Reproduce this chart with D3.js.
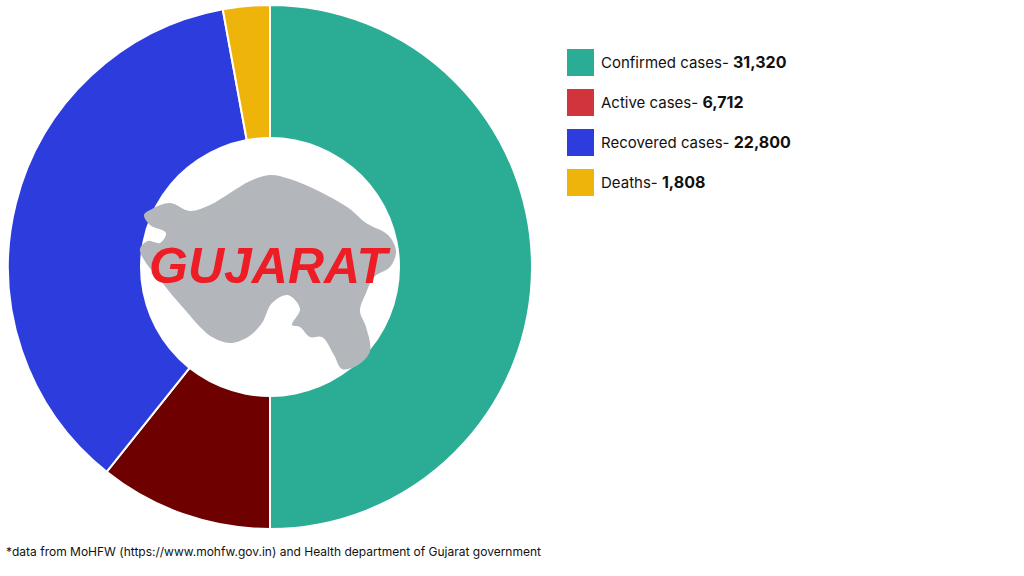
<!DOCTYPE html>
<html><head><meta charset="utf-8">
<script src="https://cdn.jsdelivr.net/npm/d3@7"></script>
<style>body{margin:0;background:#fff}svg{display:block}</style>
</head><body>
<svg id="c" width="1024" height="576"></svg>
<script>
const categories = ["Confirmed cases-", "Active cases-", "Recovered cases-", "Deaths-"];
const values = [31320, 6712, 22800, 1808];
const valueLabels = ["31,320", "6,712", "22,800", "1,808"];
const sliceColors = ["#2bac95", "#6e0000", "#2d3ddd", "#efb40a"];
const legendColors = ["#2bac95", "#d1343a", "#2d3ddd", "#efb40a"];

const svg = d3.select("#c");
const cx = 270, cy = 267;
const pie = d3.pie().sort(null).value(d => d)(values);
const arc = d3.arc().innerRadius(0).outerRadius(262);
const g = svg.append("g").attr("transform", `translate(${cx},${cy})`);
g.selectAll("path").data(pie).join("path")
  .attr("d", arc).attr("fill", (d, i) => sliceColors[i])
  .attr("stroke", "#fff").attr("stroke-width", 2);
g.append("circle").attr("r", 130).attr("fill", "#fff");

// Gujarat silhouette (decorative)
const map = [[-118,-58],[-100,-64],[-80,-56],[-60,-62],[-40,-74],[-20,-86],[0,-92],[20,-88],[40,-80],[60,-70],[80,-58],[96,-44],[118,-32],[126,-16],[120,0],[104,10],[96,26],[90,44],[96,60],[100,84],[88,98],[72,102],[64,88],[52,70],[40,70],[30,60],[22,58],[30,42],[18,28],[2,36],[-8,56],[-22,70],[-40,76],[-58,70],[-70,60],[-84,44],[-98,28],[-112,10],[-124,-4],[-130,-18],[-122,-26],[-110,-24],[-104,-34],[-120,-42],[-126,-52]];
g.append("path").attr("d", d3.line().curve(d3.curveCatmullRomClosed)(map))
  .attr("fill", "#b3b6bb");
g.append("text").attr("x", -2).attr("y", 16).attr("text-anchor", "middle")
  .attr("font-family", "Liberation Sans, Arial").attr("font-weight", "bold")
  .attr("font-style", "italic").attr("font-size", 50).attr("fill", "#ee1c25")
  .text("GUJARAT");

const lg = svg.append("g");
categories.forEach((c, i) => {
  const y = 49 + i * 40;
  lg.append("rect").attr("x", 567).attr("y", y).attr("width", 27).attr("height", 27)
    .attr("fill", legendColors[i]);
  const t = lg.append("text").attr("x", 601).attr("y", y + 19)
    .attr("font-family", "Inter, Roboto, sans-serif").attr("font-size", 15).attr("fill", "#111");
  t.append("tspan").text(c + " ");
  t.append("tspan").attr("font-weight", "bold").attr("font-size", 16).text(valueLabels[i]);
});

svg.append("text").attr("x", 6).attr("y", 556)
  .attr("font-family", "Inter, Roboto, sans-serif").attr("font-size", 12).attr("fill", "#111")
  .text("*data from MoHFW (https://www.mohfw.gov.in) and Health department of Gujarat government");
</script>
</body></html>
